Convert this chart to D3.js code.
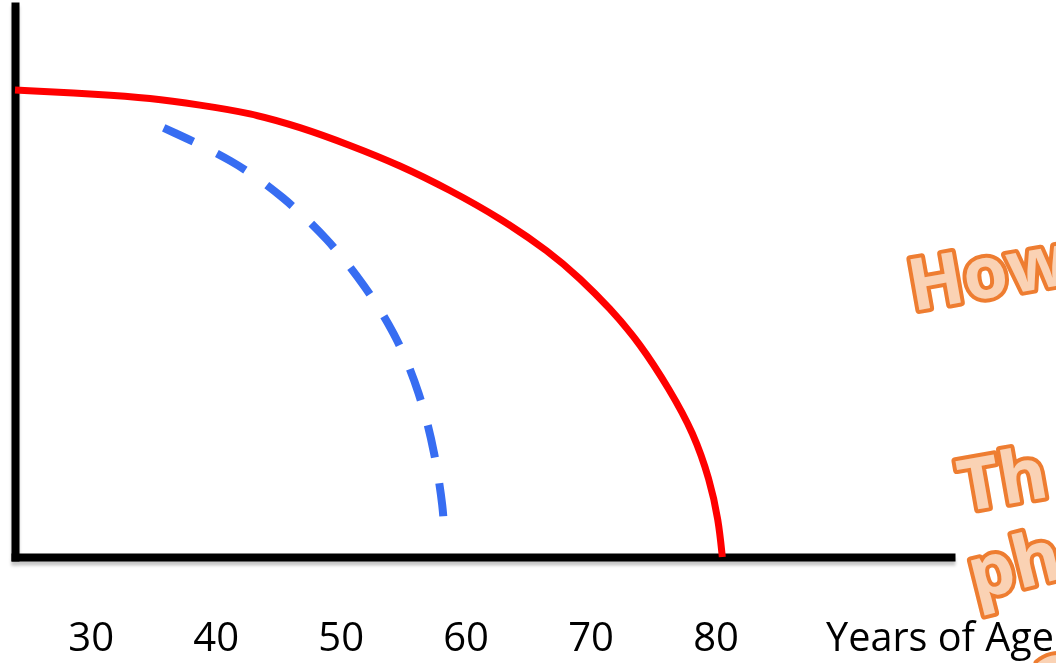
<!DOCTYPE html>
<html>
<head>
<meta charset="utf-8">
<script src="https://cdn.jsdelivr.net/npm/d3@7"></script>
<style>
    html, body { margin: 0; padding: 0; background: #fff; overflow: hidden; }
    svg { display: block; }
</style>
</head>
<body>
<div id="chart"></div>
<script>
// tick labels on the age axis
var tickAges = [30, 40, 50, 60, 70, 80];

// solid red curve: % still alive vs age
var redAge = [23.9, 30.7, 34.7, 38.7, 42.7, 46.7, 50.7, 54.7, 58.7, 62.7, 66.7, 69.1, 71.5, 73.9, 76.3, 78.2, 79.5, 80.2, 80.5];
var redPct = [100, 99.1, 98.3, 96.8, 95.1, 92.1, 88.2, 83.9, 78.6, 72.6, 65.3, 59.7, 53.3, 45.8, 35.8, 26.6, 16.5, 7.9, 0];

// dashed blue curve
var blueAge = [35.8, 41.4, 45.4, 48.9, 51.9, 54.5, 56.3, 57.5, 58.2, 58.2];
var bluePct = [91.9, 85.0, 77.1, 68.3, 58.2, 47.1, 35.1, 22.5, 9.6, 6.2];

var xTitle = "Years of Age";
var notes  = ["How", "Th", "ph", "a"];

(function () {

    var W = 1056, H = 663;
    var AGE_MIN = 23.9, AGE_MAX = 98.8, PCT_MAX = 118;

    var svg = d3.select("#chart").append("svg")
        .attr("width", W)
        .attr("height", H);

    var x = d3.scaleLinear().domain([AGE_MIN, AGE_MAX]).range([15, 951]);
    var y = d3.scaleLinear().domain([0, PCT_MAX]).range([557, 6]);

    // soft shadow under the axis lines
    svg.append("defs").append("filter")
        .attr("id", "axis-shadow")
        .attr("x", "-5%").attr("y", "-5%")
        .attr("width", "110%").attr("height", "120%")
        .append("feDropShadow")
        .attr("dx", 0).attr("dy", 4)
        .attr("stdDeviation", 1.8)
        .attr("flood-color", "#000")
        .attr("flood-opacity", 0.22);

    var axes = svg.append("g").attr("filter", "url(#axis-shadow)");

    var gx = axes.append("g")
        .attr("transform", "translate(0," + y(0) + ")")
        .call(d3.axisBottom(x).tickValues(tickAges).tickSize(0).tickFormat(d3.format("d")));

    axes.append("g")
        .attr("transform", "translate(" + x(AGE_MIN) + ",0)")
        .call(d3.axisLeft(y).tickValues([]).tickSizeOuter(0));

    axes.selectAll(".domain")
        .attr("stroke", "#000")
        .attr("stroke-width", 8)
        .attr("stroke-linecap", "square");

    // tick labels sit well below the line, outside the shadow group
    gx.selectAll(".tick text").remove();
    var labels = svg.append("g");
    tickAges.forEach(function (a) {
        labels.append("text")
            .attr("x", x(a)).attr("y", 651)
            .attr("text-anchor", "middle")
            .style("font-family", "'Open Sans', sans-serif")
            .style("font-size", "40px")
            .attr("fill", "#000")
            .text(a);
    });

    labels.append("text")
        .attr("x", 826).attr("y", 651)
        .attr("textLength", 228)
        .attr("lengthAdjust", "spacingAndGlyphs")
        .style("font-family", "'Open Sans', sans-serif")
        .style("font-size", "40px")
        .attr("fill", "#000")
        .text(xTitle);

    /* curves (smoothed through the read-off points) */
    var line = d3.line()
        .x(function (d) { return x(d[0]); })
        .y(function (d) { return y(d[1]); })
        .curve(d3.curveBasis);

    svg.append("path")
        .datum(d3.zip(redAge, redPct))
        .attr("fill", "none")
        .attr("stroke", "#ff0000")
        .attr("stroke-width", 7)
        .attr("d", line);

    svg.append("path")
        .datum(d3.zip(blueAge, bluePct))
        .attr("fill", "none")
        .attr("stroke", "#376df2")
        .attr("stroke-width", 8)
        .attr("stroke-dasharray", "33 26")
        .attr("d", line);

    /* orange word-art notes, cut off by the right edge */
    var noteSpots = [
        { x: 913, y: 311, r: -10 },
        { x: 963, y: 512, r: -10 },
        { x: 975, y: 600, r: -14 },
        { x: 1040, y: 700, r: -14 }
    ];

    notes.forEach(function (t, i) {
        var s = noteSpots[i];
        svg.append("text")
            .attr("transform", "translate(" + s.x + "," + s.y + ") rotate(" + s.r + ")")
            .style("font-family", "'Open Sans', sans-serif")
            .style("font-weight", "bold")
            .style("font-size", "72px")
            .attr("fill", "#fad2b4")
            .attr("stroke", "#ee7d31")
            .attr("stroke-width", 8)
            .attr("stroke-linejoin", "round")
            .style("paint-order", "stroke")
            .text(t);
    });

}());
</script>
</body>
</html>
